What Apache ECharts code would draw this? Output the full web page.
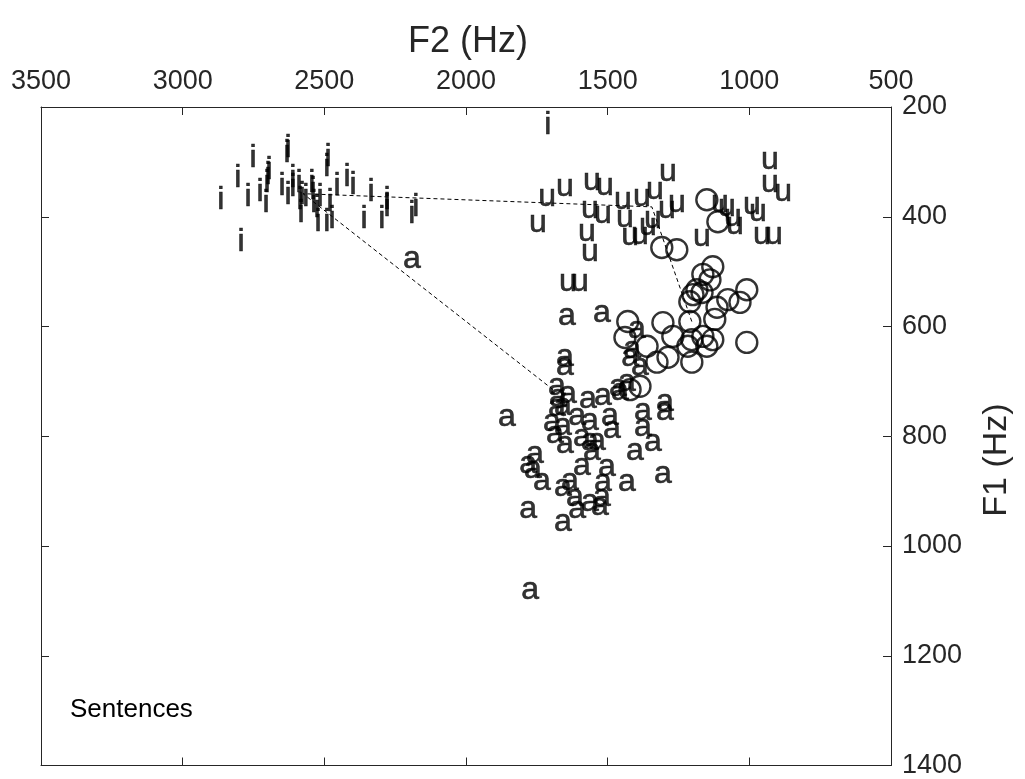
<!DOCTYPE html>
<html>
<head>
<meta charset="utf-8">
<script src="https://cdn.jsdelivr.net/npm/echarts@6/dist/echarts.min.js"></script>
<style>html,body{margin:0;padding:0;background:#fff;}#c{width:1025px;height:779px;}</style>
</head>
<body>
<div id="c"></div>
<script>
// Tick values
const f2Ticks = [3500, 3000, 2500, 2000, 1500, 1000, 500];
const f1Ticks = [200, 400, 600, 800, 1000, 1200, 1400];

// Tokens: [F2 (Hz), F1 (Hz)]
const iTokens = [[2865,369],[2794,447],[2805,329],[2769,365],[2752,293],[2727,356],[2702,338],[2699,324],[2695,315],[2706,375],
  [2649,345],[2632,284],[2628,275],[2628,360],[2611,329],[2611,347],[2589,338],[2586,369],[2582,393],[2579,360],
  [2565,365],[2544,338],[2540,351],[2537,375],[2526,384],[2522,409],[2515,365],[2491,309],[2487,291],[2491,409],
  [2480,373],[2473,405],[2455,345],[2420,327],[2399,342],[2360,405],[2335,356],[2297,405],[2279,382],[2279,369],
  [2191,396],[2177,382],[1711,233]];
const uTokens = [[1714,365],[1746,411],[1651,347],[1556,336],[1510,345],[1563,387],[1517,396],[1573,429],[1563,464],
  [1446,369],[1439,402],[1379,365],[1333,351],[1287,318],[1291,387],[1256,375],[1421,436],[1386,433],[1358,418],
  [1340,405],[1640,520],[1598,520],[927,296],[927,338],[881,356],[1104,375],[1079,382],[1058,400],[1051,415],
  [991,378],[970,391],[956,433],[913,433],[1167,438]];
const aTokens = [[2191,478],[1644,582],[1520,575],[1651,655],[1651,673],[1397,605],[1414,642],[1421,655],[1386,673],
  [1432,702],[1464,711],[1517,727],[1856,765],[1679,709],[1774,1080],[1676,729],[1640,724],[1679,747],[1658,745],
  [1570,733],[1457,718],[1697,774],[1658,782],[1608,764],[1563,773],[1492,764],[1485,787],[1376,754],[1298,738],
  [1298,754],[1376,784],[1340,811],[1404,827],[1686,796],[1651,814],[1591,802],[1563,809],[1556,827],[1538,809],
  [1757,833],[1781,851],[1764,860],[1732,882],[1591,854],[1503,856],[1432,884],[1305,869],[1658,893],[1633,882],
  [1517,884],[1616,911],[1563,920],[1520,911],[1608,933],[1781,933],[1658,956],[1527,927]];
const oTokens = [[1150,369],[1111,409],[1309,456],[1256,460],[1129,491],[1164,505],[1139,515],[1185,533],[1199,542],
  [1167,538],[1210,555],[1076,551],[1114,565],[1009,533],[1033,556],[1122,587],[1210,591],[1305,593],[1429,591],
  [1439,620],[1361,636],[1270,618],[1203,624],[1164,618],[1129,624],[1150,636],[1217,636],[1287,656],[1326,665],
  [1203,665],[1009,629],[1386,709],[1421,715]];
// Vowel means joined by the dashed path: a -> i -> u -> O
const meanF2 = [1693, 2575, 1344, 1203];
const meanF1 = [715, 358, 382, 591];

const FONT = "'Liberation Sans', Arial, sans-serif";
const AX = '#262626';

function glyphSeries(data, ch, dy) {
  return {
    type: 'scatter', data: data, symbol: 'circle', symbolSize: 1,
    itemStyle: { color: 'rgba(0,0,0,0)' }, silent: true, z: 3,
    labelLayout: { hideOverlap: false },
    label: { show: true, position: 'inside', formatter: ch, color: '#000',
      fontFamily: FONT, fontSize: 32, offset: [0, dy],
      textBorderColor: '#000', textBorderWidth: 0.6 }
  };
}

const chart = echarts.init(document.getElementById('c'), null, { renderer: 'canvas' });
chart.setOption({
  animation: false,
  backgroundColor: '#fff',
  grid: { left: 41, top: 107, right: 134, bottom: 12, containLabel: false },
  xAxis: [
    { type: 'value', position: 'top', inverse: true, min: 500, max: 3500, interval: 500,
      axisLine: { show: true, lineStyle: { color: AX, width: 1 } },
      axisTick: { show: true, inside: true, length: 8, lineStyle: { color: AX } },
      axisLabel: { show: true, margin: 12, color: AX, fontFamily: FONT, fontSize: 27,
        formatter: v => f2Ticks.includes(v) ? String(v) : '' },
      splitLine: { show: false } },
    { type: 'value', position: 'bottom', inverse: true, min: 500, max: 3500, interval: 500,
      axisLine: { show: true, onZero: false, lineStyle: { color: AX, width: 1 } },
      axisTick: { show: true, inside: true, length: 8, lineStyle: { color: AX } },
      axisLabel: { show: false }, splitLine: { show: false } }
  ],
  yAxis: [
    { type: 'value', position: 'right', inverse: true, min: 200, max: 1400, interval: 200,
      axisLine: { show: true, lineStyle: { color: AX, width: 1 } },
      axisTick: { show: true, inside: true, length: 8, lineStyle: { color: AX } },
      axisLabel: { show: true, margin: 11, color: AX, fontFamily: FONT, fontSize: 27,
        formatter: v => f1Ticks.includes(v) ? String(v) : '' },
      splitLine: { show: false } },
    { type: 'value', position: 'left', inverse: true, min: 200, max: 1400, interval: 200,
      axisLine: { show: true, onZero: false, lineStyle: { color: AX, width: 1 } },
      axisTick: { show: true, inside: true, length: 8, lineStyle: { color: AX } },
      axisLabel: { show: false }, splitLine: { show: false } }
  ],
  series: [
    { type: 'line', data: meanF2.map((v, k) => [v, meanF1[k]]), symbol: 'none', silent: true, z: 1,
      lineStyle: { color: '#000', width: 1, type: [4, 3] } },
    glyphSeries(iTokens, 'i', 0),
    glyphSeries(uTokens, 'u', -3),
    glyphSeries(aTokens, 'a', -3),
    { type: 'scatter', data: oTokens, symbol: 'circle', symbolSize: 21, silent: true, z: 4,
      itemStyle: { color: 'rgba(0,0,0,0)', borderColor: '#000', borderWidth: 2.4 } }
  ],
  graphic: [
    { type: 'text', style: { text: 'F2 (Hz)', x: 468, y: 42, align: 'center', verticalAlign: 'middle',
      fill: AX, font: "36px " + FONT } },
    { type: 'text', x: 997, y: 460, rotation: Math.PI / 2,
      style: { text: 'F1 (Hz)', align: 'center', verticalAlign: 'middle', fill: AX, font: "34px " + FONT } },
    { type: 'text', style: { text: 'Sentences', x: 70, y: 710, align: 'left', verticalAlign: 'middle',
      fill: '#000', font: "26px " + FONT } }
  ]
});
</script>
</body>
</html>
